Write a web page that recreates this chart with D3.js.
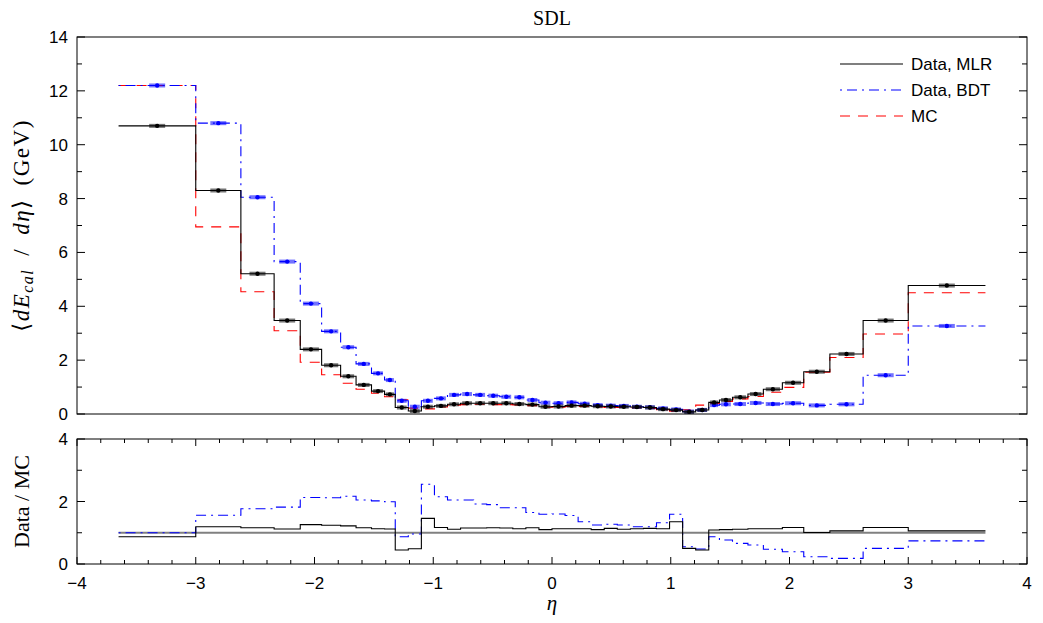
<!DOCTYPE html>
<html>
<head>
<meta charset="utf-8">
<script src="https://cdn.jsdelivr.net/npm/d3@7"></script>
<style>
  body { margin: 0; background: #fff; }
  svg text { fill: #000; }
</style>
</head>
<body>
<svg id="chart" width="1043" height="623"></svg>
<script>
// bin edges in eta
const edges = [-3.65, -3.0, -2.62, -2.34, -2.12, -1.94, -1.78, -1.65, -1.52, -1.41,
  -1.32, -1.21, -1.10, -0.99, -0.88, -0.77, -0.66, -0.55, -0.44, -0.33, -0.22, -0.11,
  0.0, 0.11, 0.22, 0.33, 0.44, 0.55, 0.66, 0.77, 0.88, 0.99, 1.10, 1.21,
  1.32, 1.41, 1.52, 1.65, 1.78, 1.94, 2.12, 2.34, 2.62, 3.0, 3.65];

// <dE/deta> per bin (GeV)
const dataMLR = [10.7, 8.3, 5.21, 3.47, 2.40, 1.81, 1.40, 1.08, 0.85, 0.73,
  0.24, 0.11, 0.27, 0.30, 0.36, 0.40, 0.40, 0.40, 0.40, 0.37, 0.35, 0.27,
  0.28, 0.31, 0.31, 0.29, 0.28, 0.27, 0.26, 0.24, 0.18, 0.145, 0.08, 0.15,
  0.43, 0.52, 0.62, 0.74, 0.92, 1.16, 1.57, 2.23, 3.47, 4.77];
const dataBDT = [12.2, 10.8, 8.05, 5.66, 4.10, 3.07, 2.48, 1.86, 1.51, 1.26,
  0.49, 0.27, 0.49, 0.58, 0.71, 0.74, 0.71, 0.68, 0.64, 0.62, 0.52, 0.42,
  0.40, 0.43, 0.38, 0.33, 0.31, 0.30, 0.27, 0.25, 0.21, 0.17, 0.09, 0.15,
  0.33, 0.36, 0.37, 0.41, 0.37, 0.40, 0.32, 0.36, 1.44, 3.27];
const mc = [12.2, 6.95, 4.54, 3.09, 1.92, 1.46, 1.14, 0.92, 0.77, 0.64,
  0.53, 0.22, 0.19, 0.26, 0.33, 0.35, 0.36, 0.35, 0.35, 0.34, 0.31, 0.25,
  0.25, 0.28, 0.28, 0.26, 0.245, 0.24, 0.23, 0.21, 0.16, 0.107, 0.16, 0.33,
  0.39, 0.47, 0.56, 0.65, 0.81, 0.99, 1.55, 2.10, 2.97, 4.50];

// Data / MC
const ratioMLR = [0.87, 1.19, 1.16, 1.12, 1.26, 1.24, 1.22, 1.16, 1.13, 1.12,
  0.45, 0.49, 1.46, 1.17, 1.11, 1.15, 1.15, 1.16, 1.15, 1.13, 1.16, 1.10,
  1.13, 1.13, 1.13, 1.10, 1.14, 1.11, 1.13, 1.14, 1.13, 1.35, 0.50, 0.45,
  1.09, 1.10, 1.11, 1.13, 1.13, 1.17, 1.01, 1.06, 1.17, 1.06];
const ratioBDT = [1.00, 1.56, 1.77, 1.82, 2.13, 2.12, 2.17, 2.05, 2.02, 1.99,
  0.87, 0.96, 2.55, 2.15, 2.05, 2.05, 1.92, 1.90, 1.80, 1.80, 1.65, 1.59,
  1.60, 1.55, 1.35, 1.25, 1.27, 1.25, 1.19, 1.19, 1.32, 1.59, 0.55, 0.48,
  0.87, 0.77, 0.66, 0.61, 0.47, 0.39, 0.23, 0.18, 0.50, 0.74];

const xTicks = [-4, -3, -2, -1, 0, 1, 2, 3, 4];
const yTicksTop = [0, 2, 4, 6, 8, 10, 12, 14];
const yTicksBot = [0, 2, 4];
const legendNames = ["Data, MLR", "Data, BDT", "MC"];

const svg = d3.select("#chart");
const L = 77, R = 1027;
const topT = 37, topB = 414, botT = 439, botB = 564;
const sans = "'Liberation Sans', Arial, Helvetica, sans-serif";
const serif = "'Liberation Serif', 'DejaVu Serif', serif";

const x = d3.scaleLinear().domain([-4, 4]).range([L, R]);
const yTop = d3.scaleLinear().domain([0, 14]).range([topB, topT]);
const yBot = d3.scaleLinear().domain([0, 4]).range([botB, botT]);

const styles = {
  mlr: {color: "#000", dash: null, w: 1.1},
  bdt: {color: "#0000ff", dash: "2,5,10,5", w: 1.1},
  mc: {color: "#ff0000", dash: "10,8", w: 1.1}
};

function stepPath(vals, y) {
  const pts = vals.map((v, i) => [edges[i], v]);
  pts.push([edges[edges.length - 1], vals[vals.length - 1]]);
  return d3.line().x(d => x(d[0])).y(d => y(d[1])).curve(d3.curveStepAfter)(pts);
}

function drawStep(g, vals, y, st) {
  g.append("path")
    .attr("d", stepPath(vals, y))
    .attr("fill", "none")
    .attr("stroke", st.color)
    .attr("stroke-width", st.w)
    .attr("stroke-dasharray", st.dash);
}

function drawPoints(g, vals, y, color) {
  const pts = vals.map((v, i) => ({c: (edges[i] + edges[i + 1]) / 2, w: x(edges[i + 1]) - x(edges[i]), v: v}));
  g.selectAll(null).data(pts).enter().append("rect")
    .attr("x", d => x(d.c) - Math.min(16, d.w * 0.75) / 2)
    .attr("width", d => Math.min(16, d.w * 0.75))
    .attr("y", d => y(d.v) - 2)
    .attr("height", 4)
    .attr("fill", color)
    .attr("opacity", 0.55);
  g.selectAll(null).data(pts).enter().append("circle")
    .attr("cx", d => x(d.c))
    .attr("cy", d => y(d.v))
    .attr("r", 2.2)
    .attr("fill", color);
}

// ---------- top panel ----------
const gTop = svg.append("g");
drawStep(gTop, mc, yTop, styles.mc);
drawStep(gTop, dataBDT, yTop, styles.bdt);
drawPoints(gTop, dataBDT, yTop, "#0000ff");
drawStep(gTop, dataMLR, yTop, styles.mlr);
drawPoints(gTop, dataMLR, yTop, "#000");

gTop.append("rect").attr("x", L).attr("y", topT).attr("width", R - L).attr("height", topB - topT)
  .attr("fill", "none").attr("stroke", "#000").attr("stroke-width", 1);

// y ticks top
d3.range(0, 15, 1).forEach(v => {
  const len = v % 2 === 0 ? 8 : 5;
  [[L, 1], [R, -1]].forEach(([x0, dir]) => {
    gTop.append("line").attr("x1", x0).attr("x2", x0 + dir * len)
      .attr("y1", yTop(v)).attr("y2", yTop(v)).attr("stroke", "#000").attr("stroke-width", 1);
  });
});
gTop.selectAll(null).data(yTicksTop).enter().append("text")
  .attr("x", L - 9).attr("y", d => yTop(d) + 6)
  .attr("text-anchor", "end").attr("font-family", sans).attr("font-size", 17)
  .text(d => d);

// title
svg.append("text").attr("x", (L + R) / 2).attr("y", 25).attr("text-anchor", "middle")
  .attr("font-family", serif).attr("font-size", 20).text("SDL");

// y label top
const yl = svg.append("text")
  .attr("transform", `translate(29,${(topT + topB) / 2}) rotate(-90)`)
  .attr("text-anchor", "middle").attr("font-family", serif).attr("font-size", 23)
  .attr("letter-spacing", 1.5);
yl.append("tspan").text("\u27E8");
yl.append("tspan").attr("font-style", "italic").text("dE");
yl.append("tspan").attr("font-style", "italic").attr("font-size", 16).attr("dy", 4).text("cal");
yl.append("tspan").attr("dy", -4).text("\u2002/\u2002");
yl.append("tspan").attr("font-style", "italic").text("d\u03B7");
yl.append("tspan").text("\u27E9\u2002(GeV)");

// legend
const legY = [64, 90, 116];
const legSt = [styles.mlr, styles.bdt, styles.mc];
legendNames.forEach((n, i) => {
  svg.append("line").attr("x1", 840).attr("x2", 903).attr("y1", legY[i]).attr("y2", legY[i])
    .attr("stroke", legSt[i].color).attr("stroke-width", 1.1).attr("stroke-dasharray", legSt[i].dash);
  svg.append("text").attr("x", 911).attr("y", legY[i] + 6).attr("font-family", sans)
    .attr("font-size", 17).text(n);
});

// ---------- bottom panel ----------
const gBot = svg.append("g");
gBot.append("line").attr("x1", x(edges[0])).attr("x2", x(edges[edges.length - 1]))
  .attr("y1", yBot(1)).attr("y2", yBot(1)).attr("stroke", "#808080").attr("stroke-width", 2);
drawStep(gBot, ratioBDT, yBot, styles.bdt);
drawStep(gBot, ratioMLR, yBot, styles.mlr);

gBot.append("rect").attr("x", L).attr("y", botT).attr("width", R - L).attr("height", botB - botT)
  .attr("fill", "none").attr("stroke", "#000").attr("stroke-width", 1);

d3.range(0, 5, 1).forEach(v => {
  const len = v % 2 === 0 ? 8 : 5;
  [[L, 1], [R, -1]].forEach(([x0, dir]) => {
    gBot.append("line").attr("x1", x0).attr("x2", x0 + dir * len)
      .attr("y1", yBot(v)).attr("y2", yBot(v)).attr("stroke", "#000").attr("stroke-width", 1);
  });
});
d3.range(-40, 41, 2).forEach(k => {
  const v = k / 10, len = k % 10 === 0 ? 7 : 4;
  [[botT, 1], [botB, -1]].forEach(([y0, dir]) => {
    gBot.append("line").attr("x1", x(v)).attr("x2", x(v))
      .attr("y1", y0).attr("y2", y0 + dir * len).attr("stroke", "#000").attr("stroke-width", 1);
  });
});
gBot.selectAll(null).data(yTicksBot).enter().append("text")
  .attr("x", L - 9).attr("y", d => yBot(d) + 6)
  .attr("text-anchor", "end").attr("font-family", sans).attr("font-size", 17)
  .text(d => d);
gBot.selectAll(null).data(xTicks).enter().append("text")
  .attr("x", d => x(d)).attr("y", botB + 25)
  .attr("text-anchor", "middle").attr("font-family", sans).attr("font-size", 17)
  .text(d => d < 0 ? "\u2212" + Math.abs(d) : d);

svg.append("text")
  .attr("transform", `translate(29,${(botT + botB) / 2}) rotate(-90)`)
  .attr("text-anchor", "middle").attr("font-family", serif).attr("font-size", 22)
  .text("Data / MC");

svg.append("text").attr("x", (L + R) / 2).attr("y", 610).attr("text-anchor", "middle")
  .attr("font-family", serif).attr("font-style", "italic").attr("font-size", 21).text("\u03B7");
</script>
</body>
</html>
